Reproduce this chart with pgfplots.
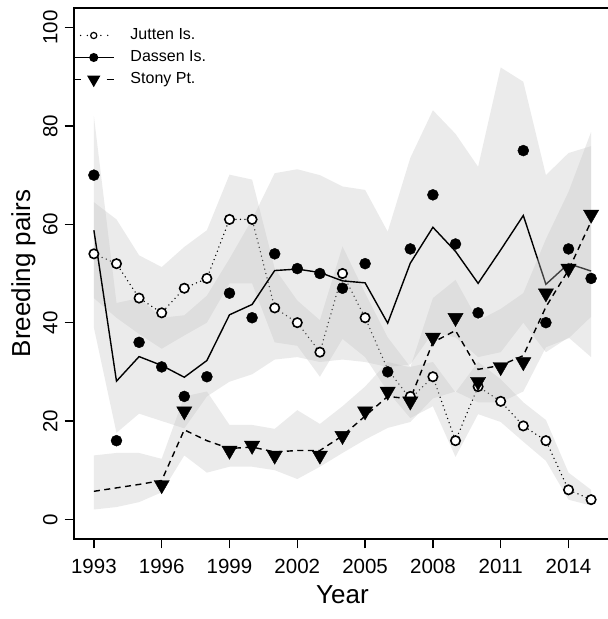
\documentclass[border=0pt]{standalone}
\usepackage{pgfplots}
\pgfplotsset{compat=1.18}
\usepackage{fontspec}
\setmainfont{Liberation Sans}
\definecolor{band}{RGB}{194,194,194}
\begin{document}
\begin{tikzpicture}
\begin{axis}[
  name=ax,
  width=537pt, height=531pt, scale only axis,
  xmin=1992.12, xmax=2015.88, ymin=-4, ymax=104,
  xtick={1993,1996,...,2014}, ytick={0,20,...,100},
  /pgf/number format/.cd, 1000 sep={}, assume math mode=true, /pgfplots/.cd,
  tick align=outside, major tick length=9.5pt, tick pos=left,
  tick style={black, line width=1.3pt},
  axis line style={line width=1.3pt},
  ticklabel style={font=\fontsize{20.5}{24}\selectfont},
  yticklabel style={rotate=90, anchor=south},
  xticklabel shift=7.5pt, yticklabel shift=3.5pt,
  xlabel={Year}, ylabel={Breeding pairs},
  label style={font=\fontsize{26}{30}\selectfont},
  xlabel style={at={([yshift=-64pt]axis description cs:0.5,0)}, anchor=base},
  ylabel style={at={([xshift=-43.8pt]axis description cs:0,0.5)}, anchor=base},
  legend style={draw=none, fill=none, at={(0,1)}, anchor=north west, xshift=-1pt, yshift=-19.5pt,
    inner sep=0pt, outer sep=0pt, row sep=6pt, column sep=16pt, font=\fontsize{16}{19}\selectfont,
    nodes={inner sep=0pt, text height=12pt, text depth=4pt}},
  legend cell align=left,
  legend image code/.code={\draw[mark repeat=2, mark phase=2, #1] plot coordinates {(0pt,0pt) (20pt,0pt) (40pt,0pt)};},
]
\addlegendimage{black, line width=1.5pt, line cap=round, dash pattern=on 0pt off 6.8pt, mark=*, mark size=3.1pt, mark options={solid, fill=white, draw=black, line width=1.2pt}}
\addlegendentry{Jutten Is.}
\addlegendimage{black, line width=1.4pt, mark=*, mark size=3.8pt, mark options={solid, fill=black}}
\addlegendentry{Dassen Is.}
\addlegendimage{black, line width=1.4pt, dash pattern=on 7pt off 26pt, mark=triangle*, mark size=6.3pt, mark options={solid, fill=black, rotate=180}}
\addlegendentry{Stony Pt.}

% ---- Jutten Is.
\addplot[forget plot, draw=none, fill=band, fill opacity=0.33] coordinates {
 (1993,64.5) (1994,61) (1995,53.7) (1996,51.3) (1997,55.4) (1998,58.8) (1999,70.1) (2000,69.1)
 (2001,51) (2002,44.5) (2003,40.5) (2004,55.5) (2005,46) (2006,37) (2007,31) (2008,32)
 (2009,25.8) (2010,32) (2011,28.5) (2012,23.8) (2013,20.2) (2014,9.5) (2015,6)
 (2015,2.8) (2014,4) (2013,11.9) (2012,15.8) (2011,19.8) (2010,21.4) (2009,12.7) (2008,23)
 (2007,20.6) (2006,26) (2005,33) (2004,36.7) (2003,29) (2002,35.3) (2001,36) (2000,48)
 (1999,48) (1998,40) (1997,37.4) (1996,34.7) (1995,37.7) (1994,41) (1993,45)};
\addplot[forget plot, black, line width=1.5pt, line cap=round, dash pattern=on 0pt off 4.5pt] coordinates {
 (1993,54) (1994,52) (1995,45) (1996,42) (1997,47) (1998,49) (1999,61) (2000,61) (2001,43)
 (2002,40) (2003,34) (2004,50) (2005,41) (2006,30.5) (2007,24.5) (2008,29) (2009,16) (2010,27)
 (2011,24) (2012,19) (2013,16) (2014,6) (2015,4)};
\addplot[forget plot, only marks, mark=*, mark size=4.7pt, mark options={fill=white, draw=black, line width=1.6pt}] coordinates {
 (1993,54) (1994,52) (1995,45) (1996,42) (1997,47) (1998,49) (1999,61) (2000,61) (2001,43)
 (2002,40) (2003,34) (2004,50) (2005,41) (2007,25) (2008,29) (2009,16) (2010,27)
 (2011,24) (2012,19) (2013,16) (2014,6) (2015,4)};

% ---- Dassen Is.
\addplot[forget plot, draw=none, fill=band, fill opacity=0.33] coordinates {
 (1993,82) (1994,44) (1995,45) (1996,41) (1997,41.5) (1998,45.5) (1999,53) (2000,61)
 (2001,70.4) (2002,71.2) (2003,70) (2004,67.7) (2005,67) (2006,58.5) (2007,73.5) (2008,83.2)
 (2009,78.4) (2010,71.7) (2011,91.9) (2012,89) (2013,70) (2014,74.5) (2015,75.9)
 (2015,33) (2014,37) (2013,34) (2012,40) (2011,34) (2010,33) (2009,37) (2008,38)
 (2007,31.5) (2006,31) (2005,32) (2004,32.5) (2003,32) (2002,33) (2001,32.5) (2000,29.5)
 (1999,28) (1998,25) (1997,18.5) (1996,20) (1995,21.5) (1994,17.6) (1993,39)};
\addplot[forget plot, black, line width=1.4pt] coordinates {
 (1993,58.8) (1994,28.1) (1995,33.1) (1996,31.3) (1997,28.9) (1998,32.3) (1999,41.6) (2000,43.7)
 (2001,50.6) (2002,50.9) (2003,50.2) (2004,48.5) (2005,48.1) (2006,39.9) (2007,52.1) (2008,59.4)
 (2009,54.5) (2010,48) (2011,54.8) (2012,61.8) (2013,47.8) (2014,52) (2015,50.5)};
\addplot[forget plot, only marks, mark=*, mark size=5.5pt, mark options={fill=black, draw=none}] coordinates {
 (1993,70) (1994,16) (1995,36) (1996,31) (1997,25) (1998,29) (1999,46) (2000,41) (2001,54)
 (2002,51) (2003,50) (2004,47) (2005,52) (2006,30) (2007,55) (2008,66) (2009,56) (2010,42)
 (2012,75) (2013,40) (2014,55) (2015,49)};

% ---- Stony Pt.
\addplot[forget plot, draw=none, fill=band, fill opacity=0.33] coordinates {
 (1993,13) (1994,13.5) (1995,13.5) (1996,12.3) (1997,25) (1998,26) (1999,19.2) (2000,19.2)
 (2001,18.4) (2002,22.2) (2003,19.4) (2004,23) (2005,27) (2006,32) (2007,30.9) (2008,45)
 (2009,48.7) (2010,40.4) (2011,42.8) (2012,46) (2013,57) (2014,66.6) (2015,78.8)
 (2015,41.2) (2014,36.8) (2013,35) (2012,26) (2011,23.8) (2010,23.8) (2009,26) (2008,24.6)
 (2007,19.8) (2006,18.6) (2005,16.2) (2004,13.5) (2003,10.7) (2002,8.2) (2001,10) (2000,10.7)
 (1999,10.7) (1998,9.5) (1997,13) (1996,5.5) (1995,3.5) (1994,2.5) (1993,2)};
\addplot[forget plot, black, line width=1.4pt, dash pattern=on 6pt off 4.5pt] coordinates {
 (1993,5.7) (1994,6.4) (1995,7.1) (1996,7.9) (1997,18.2) (1998,16) (1999,14.4) (2000,14.7)
 (2001,13.7) (2002,14) (2003,14) (2004,17) (2005,21) (2006,25) (2007,24.5) (2008,36)
 (2009,38.4) (2010,30.5) (2011,31.3) (2012,33.3) (2013,43.2) (2014,50.7) (2015,60.6)};
\addplot[forget plot, only marks, mark=triangle*, mark size=8.8pt, mark options={fill=black, draw=none, rotate=180}] coordinates {
 (1996,7) (1997,22) (1999,14) (2000,15) (2001,13) (2003,13) (2004,17) (2005,22) (2006,26)
 (2007,24) (2008,37) (2009,41) (2010,28) (2011,31) (2012,32) (2013,46) (2014,51) (2015,62)};
\end{axis}
\pgfresetboundingbox
\path[use as bounding box] ([xshift=-74pt,yshift=-80pt]ax.south west) rectangle ([xshift=-3pt,yshift=8pt]ax.north east);
\end{tikzpicture}
\end{document}
